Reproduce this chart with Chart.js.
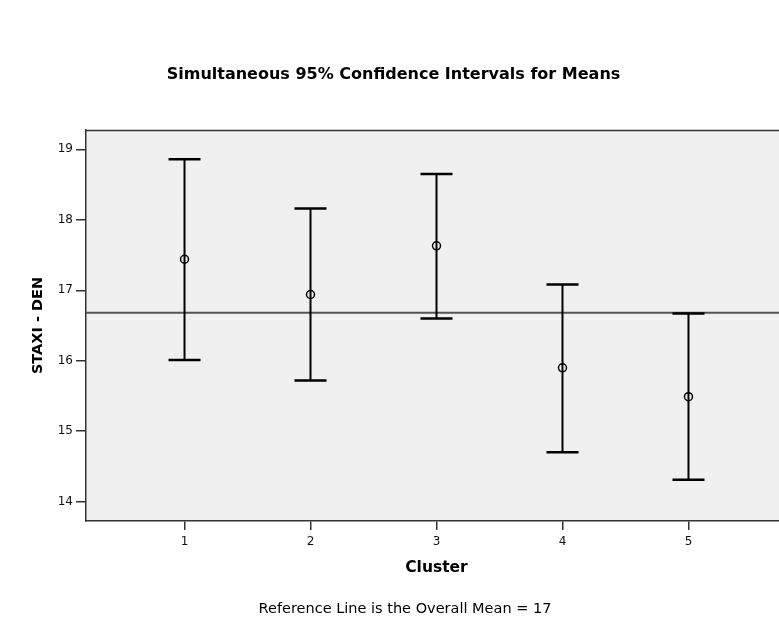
<!DOCTYPE html>
<html>
<head>
<meta charset="utf-8">
<script src="https://cdn.jsdelivr.net/npm/chart.js@4"></script>
<style>
  html, body { margin: 0; padding: 0; background: #ffffff; overflow: hidden; }
  #wrap { width: 779px; height: 621px; position: relative; overflow: hidden; }
</style>
</head>
<body>
<div id="wrap"><canvas id="c" width="787" height="621"></canvas></div>
<script>
// ---- data ----
const clusters = [1, 2, 3, 4, 5];
const means = [17.44, 16.94, 17.63, 15.90, 15.49];
const lowerCI = [16.01, 15.72, 16.60, 14.70, 14.31];
const upperCI = [18.86, 18.16, 18.65, 17.08, 16.67];
const overallMean = 16.68;
const yTicks = [14, 15, 16, 17, 18, 19];
const xTicks = [1, 2, 3, 4, 5];

const chartTitle = 'Simultaneous 95% Confidence Intervals for Means';
const xTitle = 'Cluster';
const yTitle = 'STAXI - DEN';
const footer = 'Reference Line is the Overall Mean = 17';

// ---- axis limits / geometry ----
const X_MIN = 0.218, X_MAX = 5.782;
const Y_MIN = 13.726, Y_MAX = 19.274;
const CAP_HALF = 0.127;

const FONT = "'DejaVu Sans', Verdana, sans-serif";

// build datasets
const whiskers = [];
const caps = [];
clusters.forEach((c, i) => {
  whiskers.push({x: c, y: lowerCI[i]}, {x: c, y: upperCI[i]}, {x: c, y: null});
  caps.push({x: c - CAP_HALF, y: upperCI[i]}, {x: c + CAP_HALF, y: upperCI[i]}, {x: c, y: null});
  caps.push({x: c - CAP_HALF, y: lowerCI[i]}, {x: c + CAP_HALF, y: lowerCI[i]}, {x: c, y: null});
});
const meanPts = clusters.map((c, i) => ({x: c, y: means[i]}));
const refLine = [{x: X_MIN, y: overallMean}, {x: X_MAX, y: overallMean}];

const plotBg = {
  id: 'plotBg',
  beforeDraw(chart) {
    const {ctx, chartArea: a} = chart;
    ctx.save();
    ctx.fillStyle = '#f0f0f0';
    ctx.fillRect(a.left, a.top, a.right - a.left, a.bottom - a.top);
    ctx.restore();
  },
  afterDraw(chart) {
    const {ctx, chartArea: a} = chart;
    ctx.save();
    // top frame line
    ctx.strokeStyle = '#333333';
    ctx.lineWidth = 1.5;
    ctx.beginPath();
    ctx.moveTo(a.left, a.top + 0.5);
    ctx.lineTo(a.right, a.top + 0.5);
    ctx.stroke();
    // footnote
    ctx.fillStyle = '#000000';
    ctx.font = "14.5px " + FONT;
    ctx.textAlign = 'center';
    ctx.textBaseline = 'middle';
    ctx.fillText(footer, 405, 609.5);
    ctx.restore();
  }
};

new Chart(document.getElementById('c'), {
  type: 'scatter',
  data: {
    datasets: [
      {
        label: 'ref', type: 'line', data: refLine,
        borderColor: '#555555', borderWidth: 2, pointRadius: 0, fill: false, order: 4
      },
      {
        label: 'whiskers', type: 'line', data: whiskers, spanGaps: false,
        borderColor: '#000000', borderWidth: 2, pointRadius: 0, fill: false, order: 3
      },
      {
        label: 'caps', type: 'line', data: caps, spanGaps: false,
        borderColor: '#000000', borderWidth: 2.5, pointRadius: 0, fill: false, order: 2
      },
      {
        label: 'means', data: meanPts,
        pointStyle: 'circle', pointRadius: 4, pointBorderWidth: 1.5,
        pointBorderColor: '#000000', pointBackgroundColor: 'rgba(0,0,0,0)', order: 1
      }
    ]
  },
  options: {
    responsive: false,
    animation: false,
    devicePixelRatio: 1,
    layout: { padding: 0, autoPadding: false },
    plugins: {
      legend: { display: false },
      tooltip: { enabled: false },
      title: {
        display: true, text: chartTitle, color: '#000000',
        font: { family: FONT, size: 16, weight: 'bold', lineHeight: 1.2 },
        padding: { top: 65.4, bottom: 45.4 }
      }
    },
    scales: {
      x: {
        type: 'linear', position: 'bottom', min: X_MIN, max: X_MAX,
        afterBuildTicks(scale) { scale.ticks = xTicks.map(v => ({value: v})); },
        afterFit(scale) { scale.height = 100; scale.paddingLeft = 0; scale.paddingRight = 0; },
        ticks: { color: '#111111', font: { family: FONT, size: 12 }, padding: 5, maxRotation: 0, autoSkip: false },
        grid: { display: true, drawOnChartArea: false, drawTicks: true, tickLength: 9, color: '#333333', lineWidth: 1.5 },
        border: { display: true, color: '#333333', width: 1.5 },
        title: {
          display: true, text: xTitle, color: '#000000',
          font: { family: FONT, size: 15.5, weight: 'bold', lineHeight: 1.2 },
          padding: { top: 0, bottom: 43.7 }
        }
      },
      y: {
        type: 'linear', position: 'left', min: Y_MIN, max: Y_MAX,
        afterBuildTicks(scale) { scale.ticks = yTicks.map(v => ({value: v})); },
        afterFit(scale) { scale.width = 86; },
        ticks: { color: '#111111', font: { family: FONT, size: 12 }, padding: 3 },
        grid: { display: true, drawOnChartArea: false, drawTicks: true, tickLength: 10, color: '#333333', lineWidth: 1.5 },
        border: { display: true, color: '#333333', width: 1.5 },
        title: {
          display: true, text: yTitle, color: '#000000',
          font: { family: FONT, size: 14.5, weight: 'bold', lineHeight: 1.2 },
          padding: { top: 30, bottom: 0 }
        }
      }
    }
  },
  plugins: [plotBg]
});
</script>
</body>
</html>
